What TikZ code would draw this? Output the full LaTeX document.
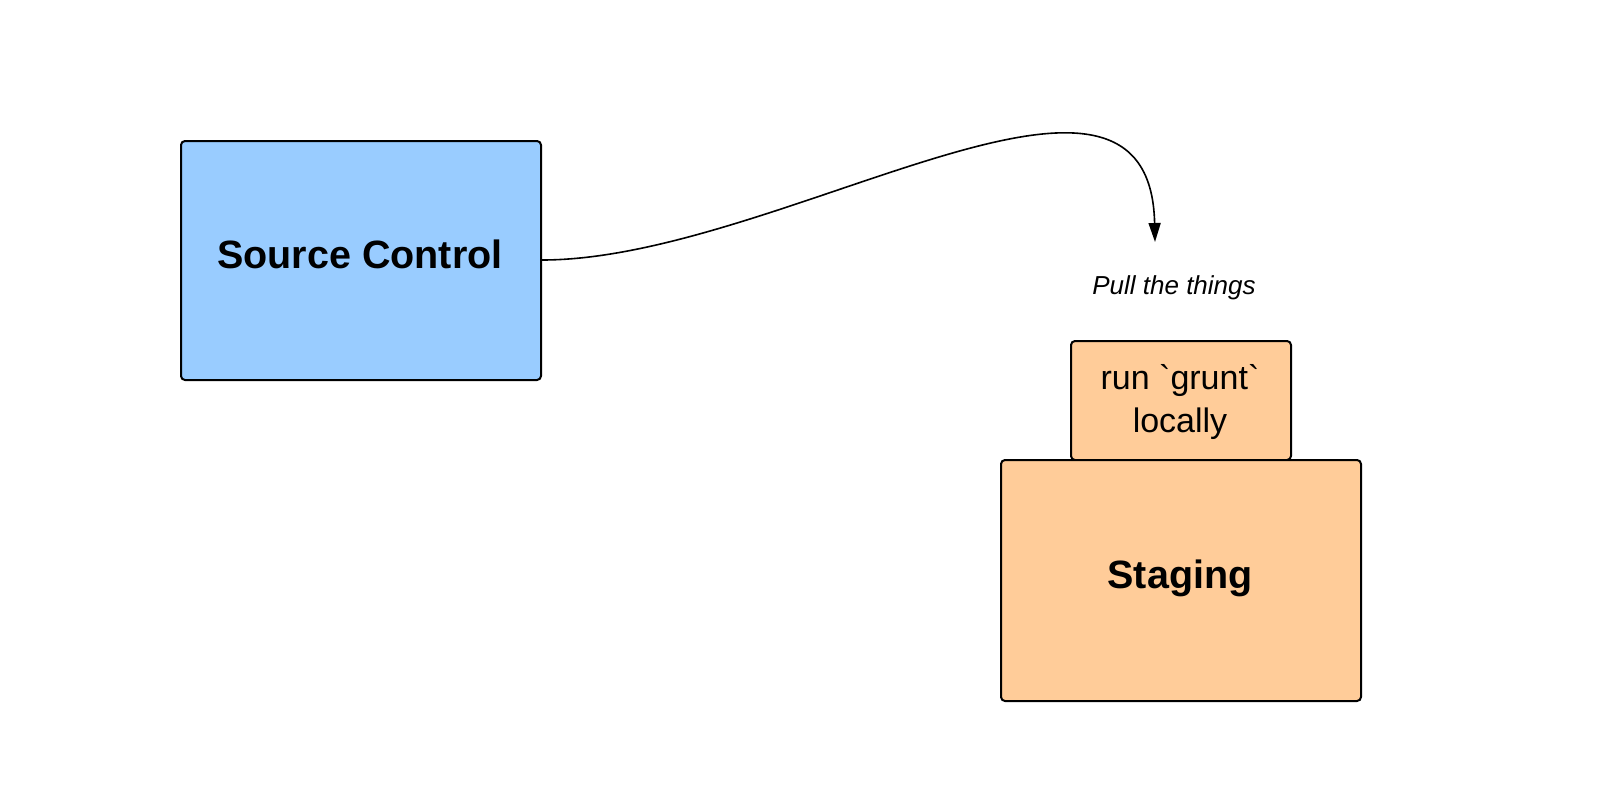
\documentclass[tikz,border=0pt]{standalone}
\usepackage{fontspec}
\setmainfont{Liberation Sans}
\newfontfamily\rawfont{Liberation Sans}
\usetikzlibrary{arrows.meta}
\definecolor{srcblue}{HTML}{99CCFF}
\definecolor{stgorange}{HTML}{FFCC99}
\begin{document}
\begin{tikzpicture}[x=1pt,y=-1pt,
  box/.style={draw=black, line width=2pt, rounded corners=4pt, inner sep=0pt, anchor=north west},
  bigtext/.style={font=\fontsize{39.5}{47}\selectfont\bfseries, inner sep=0pt},
  smalltext/.style={font=\rawfont\fontsize{34}{43}\selectfont, inner sep=0pt, align=center},
  conn/.style={line width=1.6pt, -{Triangle[length=19pt,width=12pt]}}]
\useasboundingbox (0,0) rectangle (1620,798);
\fill[white] (0,0) rectangle (1620,798);
% boxes
\node[box, fill=srcblue, minimum width=360pt, minimum height=239pt] (src) at (180,140) {};
\node[box, fill=stgorange, minimum width=220pt, minimum height=119pt] (grunt) at (1070,340) {};
\node[box, fill=stgorange, minimum width=360pt, minimum height=241pt] (stg) at (1000,459) {};
% labels
\node[bigtext, anchor=base] (srclbl) at (360,268) {Source Control};
\node[bigtext, anchor=base] (stglbl) at (1180,588) {Staging};
\node[smalltext, anchor=base] (gruntlbl1) at (1180,389) {run `grunt`};
\node[smalltext, anchor=base] (gruntlbl2) at (1180,432) {locally};
\node[font=\fontsize{26}{31}\selectfont\itshape, inner sep=0pt, anchor=base] (pull) at (1174,294) {Pull the things};
% connector
\coordinate (tip) at (1155,242);
\draw[conn] (src.east |- 0,260) .. controls (780,260) and (1150,0) .. (tip);
\end{tikzpicture}
\end{document}
